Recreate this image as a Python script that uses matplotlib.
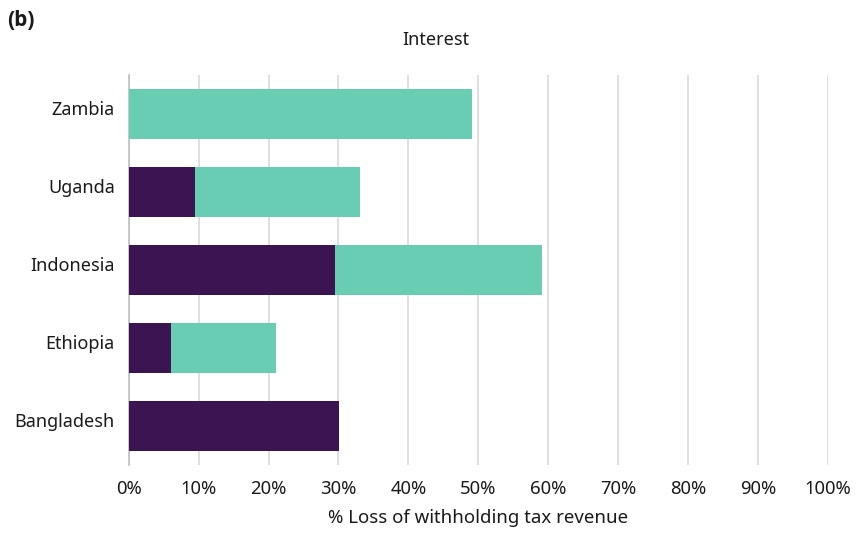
import numpy as np
import matplotlib.pyplot as plt
import matplotlib.transforms as mtransforms
from matplotlib.ticker import FuncFormatter

plt.rcParams['font.family'] = ['Noto Sans', 'DejaVu Sans']

# data
countries = ['Zambia', 'Uganda', 'Indonesia', 'Ethiopia', 'Bangladesh']
dark_part = [0.0, 9.5, 29.5, 6.0, 30.1]
teal_part = [49.1, 23.6, 29.6, 15.1, 0.0]
x_ticks = [0, 10, 20, 30, 40, 50, 60, 70, 80, 90, 100]

dark_col = '#3d1452'
teal_col = '#68cdb3'
txt_col = '#1a1a1a'

fig = plt.figure(figsize=(8.58, 5.33), dpi=100)
ax = fig.add_axes([128.7 / 858, 1 - 465 / 533, (828 - 128.7) / 858, (465 - 75) / 533])

y = np.arange(len(countries))[::-1]
ax.barh(y, dark_part, height=0.64, color=dark_col, zorder=3)
ax.barh(y, teal_part, left=dark_part, height=0.64, color=teal_col, zorder=3)

ax.set_xlim(0, 100)
ax.set_ylim(-0.5, len(countries) - 0.5)
ax.set_xticks(x_ticks)
ax.xaxis.set_major_formatter(FuncFormatter(lambda v, p: f'{v:.0f}%'))
ax.set_yticks(y)
ax.set_yticklabels(countries)
ax.tick_params(axis='x', length=0, labelsize=13.3, colors=txt_col, pad=11)
ax.tick_params(axis='y', length=0, labelsize=13, colors=txt_col, pad=10)
# labels sit a little above bar centre in the original
shift = mtransforms.ScaledTranslation(0, 6 / 100, fig.dpi_scale_trans)
for lab in ax.get_yticklabels():
    lab.set_transform(lab.get_transform() + shift)
ax.grid(axis='x', color='#d9d9d9', linewidth=1.2, zorder=0)
for s in ['top', 'right', 'bottom']:
    ax.spines[s].set_visible(False)
ax.spines['left'].set_color('#bfbfbf')
ax.spines['left'].set_linewidth(1.2)
ax.set_xlabel('% Loss of withholding tax revenue', fontsize=13.4, labelpad=8, color=txt_col)

fig.text(435.5 / 858, 1 - 40 / 533, 'Interest', ha='center', va='center', fontsize=13, color=txt_col)
fig.text(7 / 858, 1 - 20 / 533, '(b)', ha='left', va='center', fontsize=15, fontweight='bold',
         family=['Open Sans', 'DejaVu Sans'], color=txt_col)

fig.savefig('out.png', dpi=100)
